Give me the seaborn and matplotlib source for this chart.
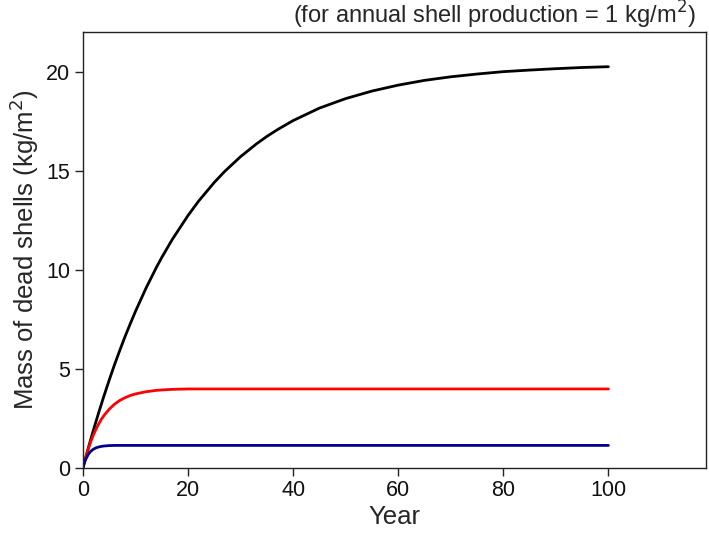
import pandas as pd
import seaborn as sns
import matplotlib.pyplot as plt

# Values
years = [0, 0.25, 0.5, 1, 1.5, 2, 2.5, 3, 3.5, 4, 5, 6, 7, 8, 9, 10, 12, 14,
         15, 17, 20, 22, 25, 27, 30, 33, 35, 37, 40, 45, 50, 55, 60, 65, 70,
         75, 80, 85, 90, 95, 100]
black_mass = [0, 0.25, 0.49, 0.98, 1.45, 1.91, 2.35, 2.79, 3.21, 3.63, 4.43,
              5.20, 5.92, 6.62, 7.27, 7.90, 9.07, 10.13, 10.62, 11.53, 12.74,
              13.46, 14.41, 14.97, 15.71, 16.35, 16.73, 17.07, 17.53, 18.16,
              18.64, 19.02, 19.32, 19.56, 19.74, 19.88, 20.00, 20.08, 20.15,
              20.21, 20.25]
red_mass = [0, 0.26, 0.51, 0.95, 1.33, 1.67, 1.96, 2.22, 2.45, 2.64, 2.96,
            3.21, 3.40, 3.54, 3.65, 3.73, 3.84, 3.91, 3.93, 3.96, 3.98,
            3.98, 3.98, 3.98, 3.98, 3.98, 3.98, 3.98, 3.98, 3.98, 3.98,
            3.98, 3.98, 3.98, 3.98, 3.98, 3.98, 3.98, 3.98, 3.98, 3.98]
blue_mass = [0, 0.23, 0.41, 0.67, 0.84, 0.94, 1.01, 1.05, 1.08, 1.10, 1.12,
             1.13, 1.13, 1.13, 1.13, 1.13, 1.13, 1.13, 1.13, 1.13, 1.13,
             1.13, 1.13, 1.13, 1.13, 1.13, 1.13, 1.13, 1.13, 1.13, 1.13,
             1.13, 1.13, 1.13, 1.13, 1.13, 1.13, 1.13, 1.13, 1.13, 1.13]

df = pd.DataFrame({
    'Year': years * 3,
    'Mass': black_mass + red_mass + blue_mass,
    'Series': ['black'] * len(years) + ['red'] * len(years) + ['blue'] * len(years),
})

sns.set_style('ticks')
plt.rcParams['font.family'] = ['Liberation Sans', 'DejaVu Sans']

fig = plt.figure(figsize=(7.09, 5.34), dpi=100)
ax = fig.add_axes([0.117, 0.124, 0.879, 0.816])

sns.lineplot(data=df, x='Year', y='Mass', hue='Series',
             palette={'black': '#000000', 'red': '#ff0000', 'blue': '#00008b'},
             linewidth=2, legend=False, ax=ax)

ax.set_xlim(0, 118.6)
ax.set_ylim(0, 22)
ax.set_xticks([0, 20, 40, 60, 80, 100])
ax.set_yticks([0, 5, 10, 15, 20])
ax.tick_params(direction='out', length=6, width=1, pad=3, labelsize=15.5,
               colors='#222222', labelcolor='#111111')
for s in ax.spines.values():
    s.set_linewidth(1)
    s.set_color('#222222')

ax.set_xlabel('Year', fontsize=18.5, labelpad=3)
ax.set_ylabel('Mass of dead shells (kg/m$^2$)', fontsize=18.5, labelpad=4)
fig.text(0.981, 0.972, '(for annual shell production = 1 kg/m$^2$)',
         ha='right', va='center', fontsize=17)

fig.savefig('out.png', dpi=100)
